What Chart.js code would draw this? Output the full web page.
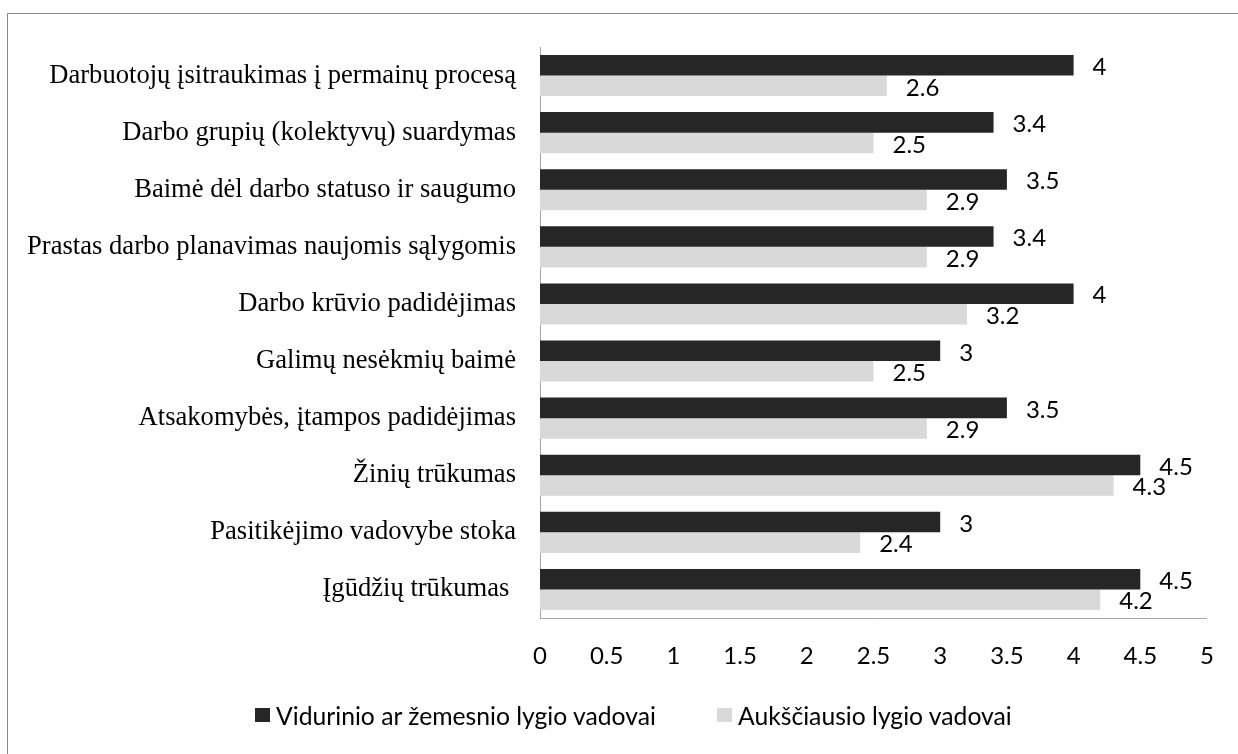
<!DOCTYPE html>
<html lang="lt">
<head>
<meta charset="utf-8">
<title>Pokyčių barjerai</title>
<script src="https://cdn.jsdelivr.net/npm/chart.js@4/dist/chart.umd.min.js"></script>
<style>
    html, body { margin: 0; padding: 0; background: #fff; overflow: hidden; }
    #wrap { position: relative; width: 1238px; height: 754px; }
    #frame {
        position: absolute; left: 7px; top: 13px; width: 1300px; height: 800px;
        border-top: 1px solid #8a8a8a; border-left: 1px solid #8a8a8a;
    }
    #chart { position: absolute; left: 0; top: 0; }
    #legend {
        position: absolute; top: 701px; left: 0; width: 1238px; height: 28px;
        font-family: Lato, sans-serif; font-size: 24.7px; color: #000;
    }
    .item { position: absolute; top: 0; display: flex; align-items: center; height: 28px; white-space: nowrap; }
    .swatch { width: 15px; height: 14px; margin-right: 6px; }
</style>
</head>
<body>
<div id="wrap">
    <div id="frame"></div>
    <canvas id="chart" width="1238" height="754"></canvas>
    <div id="legend"></div>
</div>
<script>
// --- dados ---
const categories = [
    'Darbuotojų įsitraukimas į permainų procesą',
    'Darbo grupių (kolektyvų) suardymas',
    'Baimė dėl darbo statuso ir saugumo',
    'Prastas darbo planavimas naujomis sąlygomis',
    'Darbo krūvio padidėjimas',
    'Galimų nesėkmių baimė',
    'Atsakomybės, įtampos padidėjimas',
    'Žinių trūkumas',
    'Pasitikėjimo vadovybe stoka',
    'Įgūdžių trūkumas '
];
const seriesNames = ['Vidurinio ar žemesnio lygio vadovai', 'Aukščiausio lygio vadovai'];
const middleManagers = [4, 3.4, 3.5, 3.4, 4, 3, 3.5, 4.5, 3, 4.5];
const topManagers = [2.6, 2.5, 2.9, 2.9, 3.2, 2.5, 2.9, 4.3, 2.4, 4.2];
const xTicks = [0, 0.5, 1, 1.5, 2, 2.5, 3, 3.5, 4, 4.5, 5];

const seriesColors = ['#262626', '#d9d9d9'];
const axisColor = '#a6a6a6';
const sansFont = 'Lato, sans-serif';

// rótulos de valor à direita de cada barra
const valueLabels = {
    id: 'valueLabels',
    afterDatasetsDraw(chart) {
        const ctx = chart.ctx;
        ctx.save();
        ctx.font = '24px ' + sansFont;
        ctx.fillStyle = '#000';
        ctx.textAlign = 'left';
        ctx.textBaseline = 'middle';
        chart.data.datasets.forEach((ds, i) => {
            chart.getDatasetMeta(i).data.forEach((bar, j) => {
                ctx.fillText(String(ds.data[j]), bar.x + 19, bar.y + 2);
            });
        });
        ctx.restore();
    }
};

new Chart(document.getElementById('chart').getContext('2d'), {
    type: 'bar',
    data: {
        labels: categories,
        datasets: [
            { label: seriesNames[0], data: middleManagers, backgroundColor: seriesColors[0] },
            { label: seriesNames[1], data: topManagers, backgroundColor: seriesColors[1] }
        ]
    },
    options: {
        indexAxis: 'y',
        responsive: false,
        animation: false,
        layout: { padding: { top: 47, right: 31, bottom: 60, left: 0 } },
        datasets: { bar: { categoryPercentage: 0.72, barPercentage: 1.0, borderWidth: 0 } },
        plugins: { legend: { display: false }, tooltip: { enabled: false } },
        scales: {
            x: {
                min: 0, max: 5,
                afterBuildTicks: (s) => { s.ticks = xTicks.map(v => ({ value: v })); },
                afterFit: (s) => { s.height = 76; s.paddingLeft = 0; s.paddingRight = 0; },
                grid: { display: false, drawTicks: false },
                border: { display: false },
                ticks: {
                    font: { family: sansFont, size: 24 },
                    color: '#000',
                    padding: 24,
                    maxRotation: 0,
                    autoSkip: false,
                    callback: (v) => String(v)
                }
            },
            y: {
                afterFit: (s) => { s.width = 540; },
                grid: { display: false, drawTicks: false },
                border: { display: true, color: axisColor, width: 1 },
                ticks: {
                    font: { family: '"Liberation Serif", "Times New Roman", serif', size: 26.6 },
                    color: '#000',
                    padding: 24,
                    autoSkip: false
                }
            }
        }
    },
    plugins: [valueLabels, {
        // linha inferior do eixo horizontal
        id: 'bottomAxis',
        afterDraw(chart) {
            const { ctx, chartArea } = chart;
            ctx.save();
            ctx.strokeStyle = axisColor;
            ctx.lineWidth = 1;
            ctx.beginPath();
            ctx.moveTo(chartArea.left, chartArea.bottom + 0.5);
            ctx.lineTo(chartArea.right, chartArea.bottom + 0.5);
            ctx.stroke();
            ctx.restore();
        }
    }]
});

// legenda
const legendEl = document.getElementById('legend');
const legendPos = [255, 717];
seriesNames.forEach((name, i) => {
    const item = document.createElement('div');
    item.className = 'item';
    item.style.left = legendPos[i] + 'px';
    const sw = document.createElement('span');
    sw.className = 'swatch';
    sw.style.background = seriesColors[i];
    const txt = document.createElement('span');
    txt.textContent = name;
    item.appendChild(sw);
    item.appendChild(txt);
    legendEl.appendChild(item);
});
</script>
</body>
</html>
